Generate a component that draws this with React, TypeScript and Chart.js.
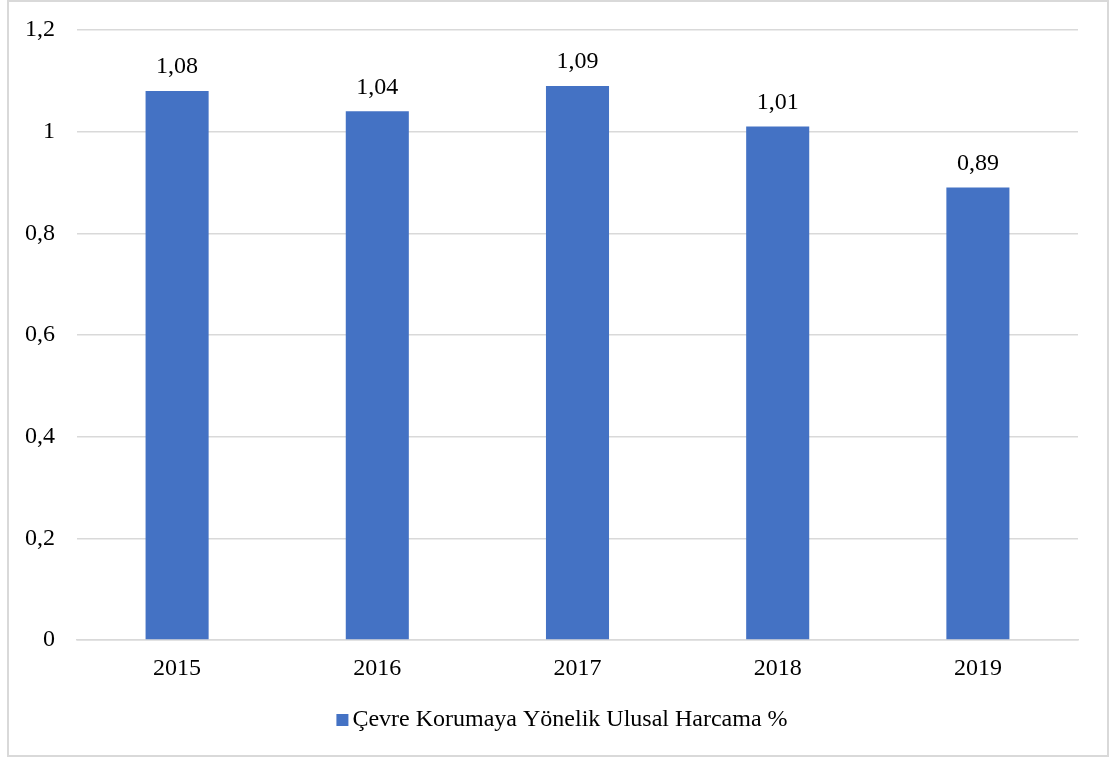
import React, { useEffect, useRef } from "react";
import { Chart, registerables } from "chart.js";

Chart.register(...registerables);

const categories = ["2015", "2016", "2017", "2018", "2019"];
const values = [1.08, 1.04, 1.09, 1.01, 0.89];
const seriesName = "Çevre Korumaya Yönelik Ulusal Harcama %";
const yTicks = [0, 0.2, 0.4, 0.6, 0.8, 1, 1.2];

const FONT = "'Liberation Serif', 'Times New Roman', serif";
const FONT_SIZE = 24;
const BAR_COLOR = "#4472C4";
const GRID_COLOR = "#d9d9d9";

const fmt = (v: number) => (Math.round(v * 100) / 100).toString().replace(".", ",");

const dataLabelPlugin = {
  id: "dataLabels",
  afterDatasetsDraw(chart: any) {
    const ctx = chart.ctx;
    const meta = chart.getDatasetMeta(0);
    ctx.save();
    ctx.font = `${FONT_SIZE}px ${FONT}`;
    ctx.fillStyle = "#000";
    ctx.textAlign = "center";
    ctx.textBaseline = "middle";
    meta.data.forEach((bar: any, i: number) => {
      ctx.fillText(fmt(values[i]), bar.x, bar.y - 24);
    });
    ctx.restore();
  },
};

const legendPlugin = {
  id: "customLegend",
  afterDraw(chart: any) {
    const ctx = chart.ctx;
    ctx.save();
    ctx.font = `${FONT_SIZE}px ${FONT}`;
    const tw = ctx.measureText(seriesName).width;
    const box = 12;
    const gap = 4;
    const total = box + gap + tw;
    const cx = chart.width / 2 + 4;
    const cy = 718;
    const x0 = cx - total / 2;
    ctx.fillStyle = BAR_COLOR;
    ctx.fillRect(x0, cy - box / 2, box, box);
    ctx.fillStyle = "#000";
    ctx.textAlign = "left";
    ctx.textBaseline = "middle";
    ctx.fillText(seriesName, x0 + box + gap, cy);
    ctx.restore();
  },
};

export default function App() {
  const ref = useRef<HTMLCanvasElement | null>(null);
  useEffect(() => {
    if (!ref.current) return;
    const chart = new Chart(ref.current, {
      type: "bar",
      data: {
        labels: categories,
        datasets: [
          {
            label: seriesName,
            data: values,
            backgroundColor: BAR_COLOR,
            borderWidth: 0,
            barPercentage: 0.315,
            categoryPercentage: 1,
          },
        ],
      },
      plugins: [dataLabelPlugin, legendPlugin],
      options: {
        animation: false,
        responsive: false,
        maintainAspectRatio: false,
        layout: { padding: { left: 0, right: 29, top: 28, bottom: 72 } },
        plugins: {
          legend: { display: false },
          tooltip: { enabled: false },
        },
        scales: {
          x: {
            grid: { display: false, drawTicks: false },
            border: { display: true, color: GRID_COLOR, width: 1.5 },
            ticks: {
              color: "#000",
              font: { family: FONT, size: FONT_SIZE },
              padding: 14,
            },
            afterFit: (scale: any) => {
              scale.height = 43;
            },
          },
          y: {
            min: 0,
            max: 1.2,
            afterBuildTicks: (scale: any) => {
              scale.ticks = yTicks.map((v) => ({ value: v }));
            },
            grid: {
              color: GRID_COLOR,
              lineWidth: 1.5,
              drawTicks: true,
              tickLength: 22,
              tickColor: "rgba(0,0,0,0)",
            },
            border: { display: false },
            ticks: {
              color: "#000",
              font: { family: FONT, size: FONT_SIZE },
              padding: 0,
              callback: (v: any) => fmt(Number(v)),
            },
            afterFit: (scale: any) => {
              scale.width = 68;
            },
          },
        },
      },
    });
    return () => chart.destroy();
  }, []);

  return (
    <div
      style={{
        position: "absolute",
        left: 7,
        top: 0,
        width: 1102,
        height: 757,
        border: `2px solid ${GRID_COLOR}`,
        boxSizing: "border-box",
        background: "#fff",
      }}
    >
      <canvas ref={ref} width={1098} height={753} style={{ display: "block", width: 1098, height: 753 }} />
    </div>
  );
}
